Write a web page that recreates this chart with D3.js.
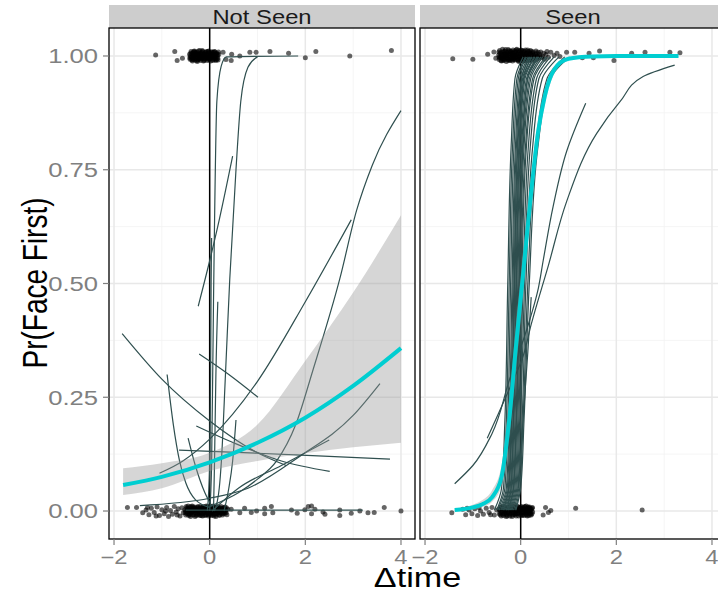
<!DOCTYPE html>
<html>
<head>
<meta charset="utf-8">
<script src="https://cdn.jsdelivr.net/npm/d3@7"></script>
<style>
body { margin: 0; background: #fff; }
svg { display: block; }
</style>
</head>
<body>
<svg width="718" height="594"></svg>
<script>
var width = 718;
var height = 594;
var fontFam = "'Liberation Sans', Arial, sans-serif";
var sx = 1.22; // the picture is a bit stretched sideways, text too

var facets = ["Not Seen", "Seen"];
var xTicks = [-2, 0, 2, 4];
var xMinor = [-1, 1, 3];
var yTicks = [0, 0.25, 0.5, 0.75, 1];
var yMinor = [0.125, 0.375, 0.625, 0.875];

// ---- Not Seen: group fit + band
var fitX1 = [-1.81, -1, 0, 1, 2, 3, 4];
var fitP1 = [0.057, 0.075, 0.107, 0.15, 0.205, 0.275, 0.358];
var lowP1 = [0.035, 0.05, 0.088, 0.11, 0.127, 0.14, 0.15];
var uppP1 = [0.094, 0.105, 0.128, 0.19, 0.33, 0.48, 0.65];

// ---- Seen: group fit + band
var fitX2 = [-1.38, -1, -0.8, -0.6, -0.4, -0.25, -0.1, 0.05, 0.2, 0.36, 0.5, 0.7, 1.0, 1.5, 2, 3.3];
var fitP2 = [0.002, 0.008, 0.015, 0.03, 0.075, 0.19, 0.36, 0.52, 0.68, 0.83, 0.91, 0.97, 0.994, 0.999, 1, 1];
var lowP2 = [0.0005, 0.004, 0.009, 0.02, 0.055, 0.15, 0.31, 0.47, 0.64, 0.8, 0.89, 0.96, 0.99, 0.998, 0.999, 0.9995];
var uppP2 = [0.005, 0.014, 0.024, 0.045, 0.1, 0.235, 0.41, 0.57, 0.72, 0.86, 0.93, 0.978, 0.997, 0.9995, 1, 1];

// ---- Not Seen: per-subject curves, [dtime, p]
var subj1 = [
  [[0.0, 0.0], [0.04, 0.1], [0.08, 0.46], [0.15, 0.9], [0.24, 0.977], [0.35, 0.998], [1.85, 1.0]],
  [[0.1, 0.0], [0.2, 0.05], [0.245, 0.11], [0.33, 0.3], [0.42, 0.51], [0.55, 0.75], [0.65, 0.9], [0.8, 0.975], [1.0, 0.998]],
  [[-0.24, 0.45], [0.0, 0.55], [0.2, 0.64], [0.48, 0.78]],
  [[0.08, 0.0], [0.1, 0.1], [0.13, 0.3], [0.17, 0.46]],
  [[0.0, 0.01], [0.6, 0.04], [1.0, 0.07], [1.4, 0.11], [1.8, 0.19], [2.16, 0.31], [2.72, 0.51], [3.07, 0.66], [3.4, 0.76], [4.0, 0.88]],
  [[-1.05, 0.083], [-0.56, 0.11], [0, 0.158], [1, 0.285], [2, 0.46], [2.96, 0.64]],
  [[-1.83, 0.39], [-1, 0.29], [0, 0.198], [1, 0.128], [1.6, 0.1]],
  [[-0.22, 0.345], [0.4, 0.3], [1.01, 0.25]],
  [[-0.89, 0.3], [-0.76, 0.19], [-0.63, 0.11], [-0.5, 0.062], [-0.3, 0.025], [0, 0.008]],
  [[-0.64, 0.134], [1, 0.127], [2.5, 0.12], [3.77, 0.114]],
  [[-1.46, 0.012], [0, 0.028], [0.8, 0.05], [1.88, 0.12], [3.0, 0.21], [3.56, 0.28]],
  [[0.3, 0.0], [0.4, 0.05], [0.48, 0.11], [0.55, 0.2]],
  [[-0.28, 0.187], [0.5, 0.15], [1.5, 0.11], [2.51, 0.087]],
  [[-0.5, 0.002], [1, 0.002], [3.2, 0.002]],
  [[-0.45, 0.16], [-0.3, 0.1], [-0.1, 0.04], [0.05, 0.01]],
  [[-0.05, 0.0], [0.0, 0.1], [0.02, 0.3], [0.03, 0.5], [0.04, 0.6]],
  [[0.05, 0.0], [0.6, 0.05], [1.5, 0.1], [2.5, 0.156]]
];

// ---- Seen: steep per-subject curves, dtime where each crosses these levels
var levels = [0.002, 0.05, 0.2, 0.5, 0.8, 0.95, 0.998];
var bundle2 = [
  [-0.55, -0.40, -0.33, -0.27, -0.20, -0.12, 0.05],
  [-0.50, -0.36, -0.30, -0.24, -0.17, -0.08, 0.10],
  [-0.48, -0.33, -0.27, -0.21, -0.14, -0.05, 0.12],
  [-0.45, -0.30, -0.24, -0.18, -0.11, -0.02, 0.16],
  [-0.42, -0.28, -0.22, -0.16, -0.09, 0.01, 0.20],
  [-0.40, -0.26, -0.20, -0.14, -0.06, 0.04, 0.24],
  [-0.38, -0.24, -0.18, -0.12, -0.04, 0.07, 0.28],
  [-0.35, -0.22, -0.16, -0.10, -0.02, 0.09, 0.30],
  [-0.33, -0.20, -0.14, -0.08, 0.00, 0.12, 0.34],
  [-0.30, -0.18, -0.12, -0.06, 0.02, 0.15, 0.38],
  [-0.28, -0.16, -0.10, -0.04, 0.05, 0.18, 0.42],
  [-0.26, -0.14, -0.08, -0.02, 0.07, 0.21, 0.46],
  [-0.24, -0.12, -0.06, 0.00, 0.10, 0.25, 0.52],
  [-0.22, -0.10, -0.04, 0.02, 0.12, 0.28, 0.56],
  [-0.20, -0.08, -0.02, 0.05, 0.16, 0.33, 0.62],
  [-0.18, -0.06, 0.00, 0.08, 0.20, 0.38, 0.70],
  [-0.15, -0.04, 0.03, 0.11, 0.25, 0.45, 0.80],
  [-0.12, -0.02, 0.05, 0.15, 0.32, 0.55, 0.92],
  [-0.36, -0.25, -0.19, -0.13, -0.07, 0.02, 0.18],
  [-0.30, -0.20, -0.15, -0.09, -0.03, 0.06, 0.22],
  [-0.10, 0.00, 0.07, 0.18, 0.36, 0.62, 1.02],
  [-0.26, -0.15, -0.09, -0.03, 0.04, 0.14, 0.36]
];
// ---- Seen: the shallower ones, [dtime, p]
var subj2 = [
  [[-1.38, 0.06], [-1.0, 0.1], [-0.6, 0.17], [-0.23, 0.29], [0.1, 0.39], [0.37, 0.49], [0.47, 0.55], [0.68, 0.67], [0.96, 0.79], [1.36, 0.896]],
  [[-0.7, 0.16], [-0.23, 0.27], [0.05, 0.34], [0.22, 0.41], [0.58, 0.54], [0.96, 0.68], [1.59, 0.83], [2.08, 0.9], [2.56, 0.955], [3.22, 0.98]],
  [[-0.05, 0.05], [0.05, 0.2], [0.15, 0.35], [0.22, 0.47]]
];

// ---- raw trials (jittered), [dtime, response]
var trials1 = [
  [-1.13, 1.002], [-0.73, 1.01], [-0.68, 0.99], [-0.57, 0.995], [0.28, 1.008], [0.34, 0.992], [0.46, 1.004], [0.45, 0.99],
  [0.63, 1.0], [0.84, 1.008], [0.97, 1.008], [1.26, 1.01], [1.65, 1.006], [2.0, 0.996], [2.22, 1.01], [2.93, 1.0], [3.8, 1.012],
  [-0.42, 1.004], [-0.41, 0.993], [-0.39, 1.01], [-0.38, 0.998], [-0.36, 0.989], [-0.35, 1.007], [-0.34, 0.996], [-0.32, 1.011],
  [-0.31, 0.991], [-0.3, 1.002], [-0.28, 0.995], [-0.27, 1.009], [-0.26, 0.988], [-0.24, 1.003], [-0.23, 0.994], [-0.21, 1.012],
  [-0.2, 0.999], [-0.19, 0.99], [-0.17, 1.006], [-0.16, 0.996], [-0.14, 1.01], [-0.13, 0.989], [-0.11, 1.001], [-0.1, 0.993],
  [-0.08, 1.008], [-0.07, 0.997], [-0.05, 0.99], [-0.04, 1.005], [-0.02, 1.011], [-0.01, 0.994], [0.01, 1.002], [0.02, 0.989],
  [0.04, 1.009], [0.05, 0.997], [0.07, 1.004], [0.08, 0.992], [0.1, 1.01], [0.12, 0.999], [0.13, 0.99], [0.15, 1.006],
  [0.17, 0.995], [0.19, 1.003], [-0.33, 1.0], [-0.22, 0.997], [-0.12, 1.004], [-0.03, 0.999], [0.06, 1.001], [0.11, 0.993],
  [-0.415, 0.996], [-0.395, 1.006], [-0.375, 0.991], [-0.355, 1.001], [-0.335, 1.01], [-0.315, 0.995], [-0.295, 1.007],
  [-0.275, 0.99], [-0.255, 1.0], [-0.235, 1.011], [-0.215, 0.993], [-0.195, 1.005], [-0.175, 0.997], [-0.155, 1.012],
  [-0.135, 0.998], [-0.115, 0.99], [-0.095, 1.007], [-0.075, 1.001], [-0.055, 0.995], [-0.035, 1.01], [-0.015, 1.0],
  [0.005, 0.993], [0.025, 1.006], [0.045, 1.0], [0.065, 0.99], [0.085, 1.008], [0.105, 0.996], [0.125, 1.005],
  [0.145, 0.992], [0.165, 1.0], [0.185, 1.009],
  [-0.405, 1.0], [-0.385, 0.995], [-0.365, 1.005], [-0.345, 0.992], [-0.325, 1.003], [-0.305, 1.009], [-0.285, 0.999],
  [-0.265, 1.004], [-0.245, 0.991], [-0.225, 1.006], [-0.205, 1.002], [-0.185, 0.994], [-0.165, 1.009], [-0.145, 1.001],
  [-0.125, 0.994], [-0.105, 1.004], [-0.085, 0.996], [-0.065, 1.01], [-0.045, 0.998], [-0.025, 0.992], [-0.005, 1.007],
  [0.015, 0.997], [0.035, 1.003], [0.055, 1.009], [0.075, 0.996], [0.095, 1.002], [0.115, 1.009], [0.135, 0.998],
  [0.155, 1.003], [0.175, 0.991],
  [-1.72, 0.008], [-1.53, 0.008], [-1.4, -0.004], [-1.33, 0.002], [-1.27, -0.008], [-1.22, 0.006], [-1.16, -0.003], [-1.1, 0.009],
  [-1.05, -0.01], [-1.0, 0.003], [-0.95, -0.006], [-0.9, 0.008], [-0.86, -0.012], [-0.82, 0.001], [-0.78, -0.007], [-0.74, 0.01],
  [-0.7, -0.002], [-0.66, 0.005], [-0.62, -0.011], [-0.58, 0.007], [-0.55, -0.004], [-1.12, -0.011], [-0.92, 0.0], [-0.68, -0.009],
  [-1.3, 0.008], [0.45, 0.004], [0.63, -0.004], [0.73, 0.006], [0.87, -0.003], [0.98, 0.0], [1.15, -0.006], [1.29, 0.01],
  [1.32, -0.004], [1.71, 0.002], [1.83, -0.005], [1.99, 0.003], [2.06, 0.01], [2.13, -0.006], [2.2, 0.004], [2.37, -0.002],
  [2.41, -0.007], [2.72, 0.002], [2.96, -0.005], [3.14, 0.0], [3.31, -0.004], [3.44, -0.003], [3.65, 0.008], [4.0, 0.0],
  [2.72, -0.01], [1.15, 0.006], [2.13, 0.011],
  [-0.52, 0.003], [-0.5, -0.009], [-0.48, 0.007], [-0.47, -0.002], [-0.45, 0.011], [-0.43, -0.006], [-0.42, 0.002], [-0.4, -0.012],
  [-0.38, 0.006], [-0.37, -0.003], [-0.35, 0.009], [-0.33, -0.008], [-0.32, 0.001], [-0.3, 0.005], [-0.28, -0.01], [-0.27, 0.008],
  [-0.25, -0.001], [-0.23, 0.004], [-0.22, -0.007], [-0.2, 0.01], [-0.18, -0.004], [-0.17, 0.002], [-0.15, -0.011], [-0.13, 0.007],
  [-0.12, -0.002], [-0.1, 0.005], [-0.08, -0.008], [-0.07, 0.011], [-0.05, 0.0], [-0.03, -0.006], [-0.02, 0.008], [0.0, -0.003],
  [0.02, 0.004], [0.03, -0.01], [0.05, 0.009], [0.07, -0.001], [0.08, 0.006], [0.1, -0.007], [0.12, 0.002], [0.13, -0.012],
  [0.15, 0.01], [0.17, -0.004], [0.18, 0.003], [0.2, -0.008], [0.22, 0.007], [0.23, -0.002], [0.25, 0.005], [0.27, -0.009],
  [0.28, 0.001], [0.3, 0.008], [0.32, -0.005], [0.34, 0.003], [0.36, -0.008], [0.38, 0.004], [-0.41, 0.0], [-0.29, 0.0],
  [-0.16, 0.003], [-0.04, 0.003], [0.09, 0.001], [0.21, 0.0], [-0.36, 0.002], [-0.1, -0.003], [0.14, 0.0],
  [-0.51, -0.004], [-0.49, 0.01], [-0.46, 0.004], [-0.44, -0.01], [-0.41, 0.008], [-0.39, -0.005], [-0.365, 0.011],
  [-0.345, -0.002], [-0.325, 0.006], [-0.305, -0.012], [-0.285, 0.004], [-0.265, -0.005], [-0.245, 0.01], [-0.225, 0.001],
  [-0.205, -0.01], [-0.185, 0.007], [-0.165, -0.007], [-0.145, 0.005], [-0.125, 0.01], [-0.105, -0.01], [-0.085, 0.003],
  [-0.065, -0.004], [-0.045, 0.01], [-0.025, -0.011], [-0.005, 0.006], [0.015, -0.007], [0.035, 0.0], [0.055, -0.005],
  [0.075, 0.011], [0.095, -0.011], [0.115, 0.008], [0.135, 0.004], [0.155, -0.007], [0.175, 0.009], [0.195, 0.0],
  [0.215, -0.004], [0.24, 0.01], [0.26, -0.003], [0.29, -0.006], [0.31, 0.004], [0.33, -0.001], [0.35, 0.007],
  [-0.5, 0.0], [-0.475, -0.006], [-0.455, 0.006], [-0.435, 0.003], [-0.415, -0.008], [-0.395, 0.01], [-0.375, -0.001],
  [-0.355, -0.009], [-0.335, 0.005], [-0.315, 0.009], [-0.295, -0.004], [-0.275, 0.002], [-0.255, -0.008], [-0.235, 0.007],
  [-0.215, -0.003], [-0.195, 0.004], [-0.175, -0.01], [-0.155, 0.008], [-0.135, -0.005], [-0.115, 0.002], [-0.095, 0.009],
  [-0.075, -0.009], [-0.055, 0.006], [-0.035, 0.002], [-0.015, -0.008], [0.005, 0.011], [0.025, -0.004], [0.045, 0.004],
  [0.065, -0.009], [0.085, 0.007], [0.105, 0.0], [0.125, -0.006], [0.145, 0.008], [0.165, -0.002], [0.185, 0.006],
  [0.205, -0.01], [0.23, 0.003], [0.25, -0.006], [0.275, 0.006], [0.3, -0.002], [0.32, 0.009], [0.345, -0.004]
];

var trials2 = [
  [-1.42, 0.994], [-1.0, 0.993], [-0.69, 1.004], [-0.56, 1.009], [-0.52, 0.995], [0.96, 1.008], [1.13, 1.008], [1.29, 0.996],
  [1.43, 1.006], [1.52, 0.996], [1.65, 1.011], [1.95, 0.99], [2.32, 1.006], [2.6, 1.008], [3.12, 1.008], [3.33, 1.007],
  [-0.46, 1.002], [-0.45, 0.992], [-0.44, 1.012], [-0.42, 0.998], [-0.41, 1.007], [-0.4, 0.989], [-0.38, 1.015], [-0.37, 0.995],
  [-0.36, 1.004], [-0.34, 0.991], [-0.33, 1.011], [-0.32, 1.0], [-0.3, 0.988], [-0.29, 1.008], [-0.28, 0.996], [-0.26, 1.014],
  [-0.25, 0.993], [-0.24, 1.003], [-0.22, 0.99], [-0.21, 1.01], [-0.2, 0.998], [-0.18, 1.006], [-0.17, 0.989], [-0.16, 1.013],
  [-0.14, 0.995], [-0.13, 1.002], [-0.12, 0.991], [-0.1, 1.009], [-0.09, 0.999], [-0.08, 1.015], [-0.06, 0.992], [-0.05, 1.005],
  [-0.04, 0.988], [-0.02, 1.011], [-0.01, 0.997], [0.0, 1.004], [0.02, 0.99], [0.03, 1.012], [0.04, 0.996], [0.06, 1.007],
  [0.07, 0.993], [0.08, 1.0], [0.1, 1.013], [0.11, 0.989], [0.12, 1.005], [0.14, 0.995], [0.15, 1.01], [0.17, 0.999],
  [0.18, 0.991], [0.2, 1.006], [0.22, 1.0], [0.24, 0.994], [0.26, 1.009], [0.28, 0.998], [0.31, 1.004], [0.34, 0.993],
  [0.37, 1.008], [0.4, 1.0], [0.44, 0.996], [0.48, 1.006], [0.53, 1.003], [0.58, 0.997], [0.63, 1.008], [0.7, 1.001],
  [0.76, 1.006], [0.82, 0.999], [-0.35, 0.999], [-0.27, 1.003], [-0.19, 0.995], [-0.11, 1.001], [-0.03, 0.998], [0.05, 1.002], [0.13, 1.0],
  [-0.455, 1.009], [-0.435, 0.996], [-0.415, 0.99], [-0.395, 1.003], [-0.375, 1.009], [-0.355, 0.993], [-0.335, 1.005],
  [-0.315, 1.014], [-0.295, 0.996], [-0.275, 1.005], [-0.255, 0.99], [-0.235, 1.012], [-0.215, 0.997], [-0.195, 1.01],
  [-0.175, 1.0], [-0.155, 0.992], [-0.135, 1.008], [-0.115, 0.996], [-0.095, 1.013], [-0.075, 1.003], [-0.055, 0.99],
  [-0.035, 1.008], [-0.015, 0.993], [0.005, 1.013], [0.025, 1.0], [0.045, 0.99], [0.065, 1.011], [0.085, 0.995],
  [0.105, 1.004], [0.125, 0.994], [0.145, 1.013], [0.165, 1.004], [0.185, 0.996], [0.205, 1.012], [0.225, 0.99],
  [0.245, 1.006], [0.27, 1.002], [0.29, 0.991], [0.32, 1.011], [0.35, 1.0], [0.38, 0.995], [0.42, 1.009], [0.46, 0.999],
  [0.5, 0.993], [0.55, 1.01],
  [-0.45, 0.998], [-0.43, 1.006], [-0.405, 0.996], [-0.385, 1.0], [-0.365, 0.99], [-0.345, 1.01], [-0.325, 0.996],
  [-0.305, 1.004], [-0.285, 1.0], [-0.265, 0.992], [-0.245, 1.009], [-0.225, 1.004], [-0.205, 0.992], [-0.185, 1.002],
  [-0.165, 1.006], [-0.145, 0.999], [-0.125, 1.011], [-0.105, 0.993], [-0.085, 1.004], [-0.065, 0.998], [-0.045, 1.012],
  [-0.025, 1.0], [-0.005, 0.99], [0.015, 1.006], [0.035, 0.996], [0.055, 1.004], [0.075, 1.01], [0.095, 0.99], [0.115, 1.0],
  [0.135, 1.006], [0.155, 0.997], [0.175, 1.01], [0.195, 0.992], [0.215, 1.003], [0.235, 1.01], [0.26, 0.996], [0.3, 1.0],
  [0.33, 1.007], [0.36, 0.997], [0.39, 1.004],
  [-1.44, -0.004], [-1.21, 0.004], [-1.15, -0.008], [-1.08, 0.002], [-1.02, -0.006], [-0.96, 0.005], [-0.9, -0.01], [-0.84, 0.0],
  [-0.78, -0.007], [-0.72, 0.006], [-0.66, -0.003], [-0.6, 0.008], [-0.55, -0.009], [-0.5, 0.002], [-1.12, 0.006], [-0.87, 0.007],
  [-0.63, -0.008], [0.47, -0.009], [0.52, 0.008], [0.63, 0.001], [0.58, -0.003], [1.15, 0.006], [2.54, 0.002],
  [-0.45, 0.004], [-0.43, -0.008], [-0.41, 0.008], [-0.4, -0.002], [-0.38, 0.006], [-0.36, -0.01], [-0.35, 0.001], [-0.33, 0.009],
  [-0.31, -0.005], [-0.3, 0.003], [-0.28, -0.011], [-0.27, 0.007], [-0.25, -0.002], [-0.23, 0.01], [-0.22, -0.007], [-0.2, 0.002],
  [-0.18, -0.012], [-0.17, 0.006], [-0.15, -0.003], [-0.14, 0.009], [-0.12, -0.008], [-0.1, 0.001], [-0.09, 0.007], [-0.07, -0.006],
  [-0.05, 0.004], [-0.04, -0.011], [-0.02, 0.0], [0.0, 0.008], [0.01, -0.004], [0.03, 0.005], [0.04, -0.009], [0.06, 0.002],
  [0.08, -0.002], [0.09, 0.009], [0.11, -0.007], [0.12, 0.004], [0.14, -0.011], [0.15, 0.001], [0.17, 0.007], [0.19, -0.005],
  [0.2, 0.003], [0.22, -0.009], [0.24, 0.006], [0.25, -0.002], [-0.32, -0.001], [-0.21, 0.005], [-0.11, -0.003], [-0.01, 0.003],
  [0.1, 0.0], [0.18, 0.001],
  [-0.445, -0.006], [-0.425, 0.009], [-0.405, -0.011], [-0.385, 0.0], [-0.365, 0.01], [-0.345, -0.006], [-0.325, 0.005],
  [-0.305, -0.012], [-0.285, 0.008], [-0.265, -0.004], [-0.245, 0.004], [-0.225, -0.011], [-0.205, 0.009], [-0.185, 0.0],
  [-0.165, -0.009], [-0.145, 0.004], [-0.125, 0.011], [-0.105, -0.006], [-0.085, 0.003], [-0.065, 0.01], [-0.045, -0.004],
  [-0.025, 0.007], [-0.005, -0.009], [0.015, 0.01], [0.035, -0.002], [0.055, 0.008], [0.075, -0.01], [0.095, 0.004],
  [0.115, 0.011], [0.135, -0.004], [0.155, 0.009], [0.175, -0.01], [0.195, 0.006], [0.215, 0.0], [0.235, -0.006],
  [-0.44, 0.002], [-0.42, -0.004], [-0.395, 0.005], [-0.375, -0.007], [-0.355, 0.007], [-0.335, -0.003], [-0.315, 0.001],
  [-0.295, -0.008], [-0.275, 0.004], [-0.255, 0.008], [-0.235, -0.006], [-0.215, 0.0], [-0.195, -0.004], [-0.175, 0.01],
  [-0.155, 0.004], [-0.135, -0.006], [-0.115, 0.006], [-0.095, -0.011], [-0.075, 0.0], [-0.055, 0.009], [-0.035, 0.002],
  [-0.015, -0.005], [0.005, 0.004], [0.025, -0.01], [0.045, 0.006], [0.065, -0.004], [0.085, 0.01], [0.105, -0.002],
  [0.125, -0.009], [0.145, 0.006], [0.165, -0.003], [0.185, 0.009], [0.205, -0.007], [0.225, 0.004], [0.245, 0.008]
];

// build the two panels from the arrays above
var panels = [
  { name: facets[0], range: [109, 415], trials: trials1, curves: subj1, curveType: d3.curveMonotoneX,
    fit: fitX1.map((d, i) => ({ x: d, p: fitP1[i], lo: lowP1[i], hi: uppP1[i] })) },
  { name: facets[1], range: [420, 726], trials: trials2, curveType: d3.curveMonotoneY,
    curves: bundle2.map(row => row.map((d, i) => [d, levels[i]])).concat(subj2),
    fit: fitX2.map((d, i) => ({ x: d, p: fitP2[i], lo: lowP2[i], hi: uppP2[i] })) }
];

var plotTop = 28, plotBottom = 539, stripTop = 5;

var svg = d3.select("svg")
  .attr("width", width)
  .attr("height", height);

var y = d3.scaleLinear()
  .domain([-0.0615, 1.0615])
  .range([plotBottom, plotTop]);

function label(sel, str, tx, ty, size, anchor, fill, rot) {
  return sel.append("text")
    .attr("transform", "translate(" + tx + "," + ty + ") scale(" + sx + ",1)" + (rot ? " rotate(" + rot + ")" : ""))
    .attr("text-anchor", anchor)
    .attr("font-family", fontFam)
    .attr("font-size", size)
    .attr("fill", fill)
    .text(str);
}

var fmtX = d3.format("d");
var fmtY = d3.format(".2f");

panels.forEach(function(pan, i) {
  var x = d3.scaleLinear().domain([-2.105, 4.293]).range(pan.range);
  var g = svg.append("g");
  var x0 = pan.range[0], x1 = pan.range[1];

  svg.append("clipPath").attr("id", "clip" + i)
    .append("rect").attr("x", x0).attr("y", plotTop)
    .attr("width", x1 - x0).attr("height", plotBottom - plotTop);

  // strip
  g.append("rect").attr("x", x0).attr("y", stripTop)
    .attr("width", x1 - x0).attr("height", plotTop - stripTop)
    .attr("fill", "#cdcdcd");
  label(g, pan.name, (x0 + x1) / 2, 24, 19.5, "middle", "#1a1a1a");

  var inner = g.append("g").attr("clip-path", "url(#clip" + i + ")");

  // grid
  inner.selectAll(".gxm").data(xMinor).enter().append("line")
    .attr("x1", d => x(d)).attr("x2", d => x(d)).attr("y1", plotTop).attr("y2", plotBottom)
    .attr("stroke", "#f2f2f2").attr("stroke-width", 0.8);
  inner.selectAll(".gym").data(yMinor).enter().append("line")
    .attr("x1", x0).attr("x2", x1).attr("y1", d => y(d)).attr("y2", d => y(d))
    .attr("stroke", "#f2f2f2").attr("stroke-width", 0.8);
  inner.selectAll(".gx").data(xTicks).enter().append("line")
    .attr("x1", d => x(d)).attr("x2", d => x(d)).attr("y1", plotTop).attr("y2", plotBottom)
    .attr("stroke", "#e8e8e8").attr("stroke-width", 1.5);
  inner.selectAll(".gy").data(yTicks).enter().append("line")
    .attr("x1", x0).attr("x2", x1).attr("y1", d => y(d)).attr("y2", d => y(d))
    .attr("stroke", "#e8e8e8").attr("stroke-width", 1.5);

  // dtime = 0
  inner.append("line")
    .attr("x1", x(0)).attr("x2", x(0)).attr("y1", plotTop).attr("y2", plotBottom)
    .attr("stroke", "#000").attr("stroke-width", 1.5);

  // trials
  inner.selectAll("circle").data(pan.trials).enter().append("circle")
    .attr("cx", d => x(d[0])).attr("cy", d => y(d[1])).attr("r", 2.5)
    .attr("fill", "#000").attr("fill-opacity", 0.6);

  // subjects
  var subjLine = d3.line().x(d => x(d[0])).y(d => y(d[1])).curve(pan.curveType);
  inner.selectAll(".subj").data(pan.curves).enter().append("path")
    .attr("d", subjLine)
    .attr("fill", "none").attr("stroke", "#2f4f4f").attr("stroke-width", 1.2);

  // band + fit
  inner.append("path").datum(pan.fit)
    .attr("d", d3.area().x(d => x(d.x)).y0(d => y(d.lo)).y1(d => y(d.hi)).curve(d3.curveMonotoneX))
    .attr("fill", "#999").attr("fill-opacity", 0.4);
  inner.append("path").datum(pan.fit)
    .attr("d", d3.line().x(d => x(d.x)).y(d => y(d.p)).curve(d3.curveMonotoneX))
    .attr("fill", "none").attr("stroke", "#00ced1").attr("stroke-width", 4);

  // panel border
  g.append("rect").attr("x", x0).attr("y", plotTop)
    .attr("width", x1 - x0).attr("height", plotBottom - plotTop)
    .attr("fill", "none").attr("stroke", "#000").attr("stroke-width", 1.3);

  // x axis
  g.selectAll(".xt").data(xTicks).enter().append("line")
    .attr("x1", d => x(d)).attr("x2", d => x(d)).attr("y1", plotBottom).attr("y2", plotBottom + 6)
    .attr("stroke", "#7f7f7f").attr("stroke-width", 1.2);
  xTicks.forEach(t => label(g, fmtX(t), x(t), 563.5, 19.5, "middle", "#808080"));

  // y axis on the left panel only
  if (i === 0) {
    g.selectAll(".yt").data(yTicks).enter().append("line")
      .attr("x1", x0 - 6).attr("x2", x0).attr("y1", d => y(d)).attr("y2", d => y(d))
      .attr("stroke", "#7f7f7f").attr("stroke-width", 1.2);
    yTicks.forEach(t => label(g, fmtY(t), x0 - 11, y(t) + 7.4, 21, "end", "#808080"));
  }
});

// axis titles
label(svg, "Pr(Face First)", 46.5, 283, 28, "middle", "#000", -90);
label(svg, "\u0394time", 417.5, 587, 28, "middle", "#000");
</script>
</body>
</html>
